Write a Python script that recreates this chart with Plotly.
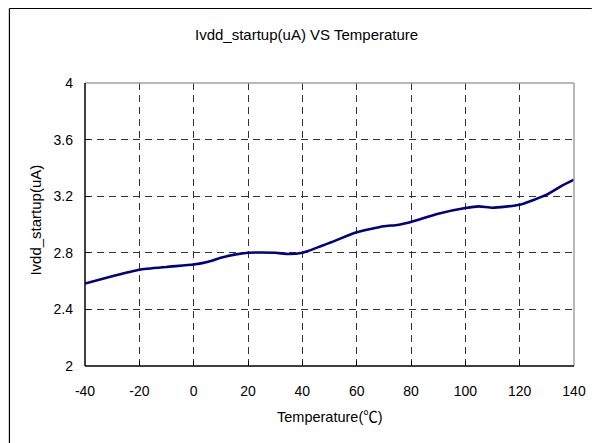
import plotly.graph_objects as go

temps = [-40, -30, -20, -10, 0, 5, 10, 15, 20, 30, 35, 40, 50, 60, 70, 75, 80, 90, 100, 105, 110, 120, 130, 135, 140]
ivdd = [2.583, 2.634, 2.680, 2.700, 2.717, 2.735, 2.765, 2.787, 2.800, 2.800, 2.791, 2.800, 2.870, 2.945, 2.988, 2.997, 3.018, 3.076, 3.116, 3.128, 3.118, 3.140, 3.211, 3.268, 3.317]

x_ticks = [-40, -20, 0, 20, 40, 60, 80, 100, 120, 140]
x_tick_labels = ["-40", "-20", "0", "20", "40", "60", "80", "100", "120", "140"]
y_ticks = [2, 2.4, 2.8, 3.2, 3.6, 4]
y_tick_labels = ["2", "2.4", "2.8", "3.2", "3.6", "4"]

title_text = "Ivdd_startup(uA) VS Temperature"
x_title = "Temperature(℃)"
y_title = "Ivdd_startup(uA)"

W, H = 598, 443
L, R, T, B = 85, 18, 83, 77

font_fam = "Liberation Sans, Arial, Noto Sans CJK SC, sans-serif"

fig = go.Figure()
fig.add_trace(go.Scatter(
    x=temps, y=ivdd, mode="lines",
    line=dict(color="#000080", width=2.6, shape="spline", smoothing=0.5),
    hoverinfo="skip", showlegend=False,
))

axis_common = dict(
    showgrid=True, gridcolor="#333333", griddash="7px,5px", gridwidth=1,
    ticks="inside", ticklen=5, tickcolor="#000000",
    showline=False, zeroline=False,
    tickfont=dict(family=font_fam, size=14, color="#000000"),
)

fig.update_xaxes(range=[-40, 140], tickvals=x_ticks, ticktext=x_tick_labels, ticklabelstandoff=15, **axis_common)
fig.update_yaxes(range=[2, 4], tickvals=y_ticks, ticktext=y_tick_labels, ticklabelstandoff=11, **axis_common)

def px(p):
    return (p - L) / (W - L - R)

def py(p):
    return 1 - (p - T) / (H - T - B)

shapes = [
    # plot area border: top & right gray, left & bottom black
    dict(type="line", xref="paper", yref="paper", x0=0, x1=1, y0=1, y1=1, line=dict(color="#a0a0a0", width=1.5)),
    dict(type="line", xref="paper", yref="paper", x0=1, x1=1, y0=0, y1=1, line=dict(color="#a0a0a0", width=1.5)),
    dict(type="line", xref="paper", yref="paper", x0=0, x1=0, y0=0, y1=1, line=dict(color="#000000", width=1.5)),
    dict(type="line", xref="paper", yref="paper", x0=0, x1=1, y0=0, y1=0, line=dict(color="#000000", width=1.5)),
    # outer chart border (top and left only are visible)
    dict(type="line", xref="paper", yref="paper", x0=px(8.5), x1=px(W), y0=py(8.5), y1=py(8.5), line=dict(color="#000000", width=1.2)),
    dict(type="line", xref="paper", yref="paper", x0=px(8.5), x1=px(8.5), y0=py(8.5), y1=py(H), line=dict(color="#000000", width=1.2)),
]

annotations = [
    dict(text=title_text, xref="paper", yref="paper", x=px(309), y=py(35), showarrow=False,
         xanchor="center", yanchor="middle", font=dict(family=font_fam, size=15, color="#000000")),
    dict(text=x_title, xref="paper", yref="paper", x=px(333), y=py(417), showarrow=False,
         xanchor="center", yanchor="middle", font=dict(family=font_fam, size=14.5, color="#000000")),
    dict(text=y_title, xref="paper", yref="paper", x=px(34), y=py(220), showarrow=False, textangle=-90,
         xanchor="center", yanchor="middle", font=dict(family=font_fam, size=15, color="#000000")),
]

fig.update_layout(
    width=W, height=H,
    margin=dict(l=L, r=R, t=T, b=B, pad=0),
    paper_bgcolor="#ffffff", plot_bgcolor="#ffffff",
    shapes=shapes, annotations=annotations,
    showlegend=False,
)

fig.write_html(
    "out.html",
    config={"displayModeBar": False, "responsive": False},
    post_script=(
        "document.documentElement.style.margin='0';"
        "document.documentElement.style.overflow='hidden';"
        "document.body.style.margin='0';"
        "document.body.style.overflow='hidden';"
    ),
)
